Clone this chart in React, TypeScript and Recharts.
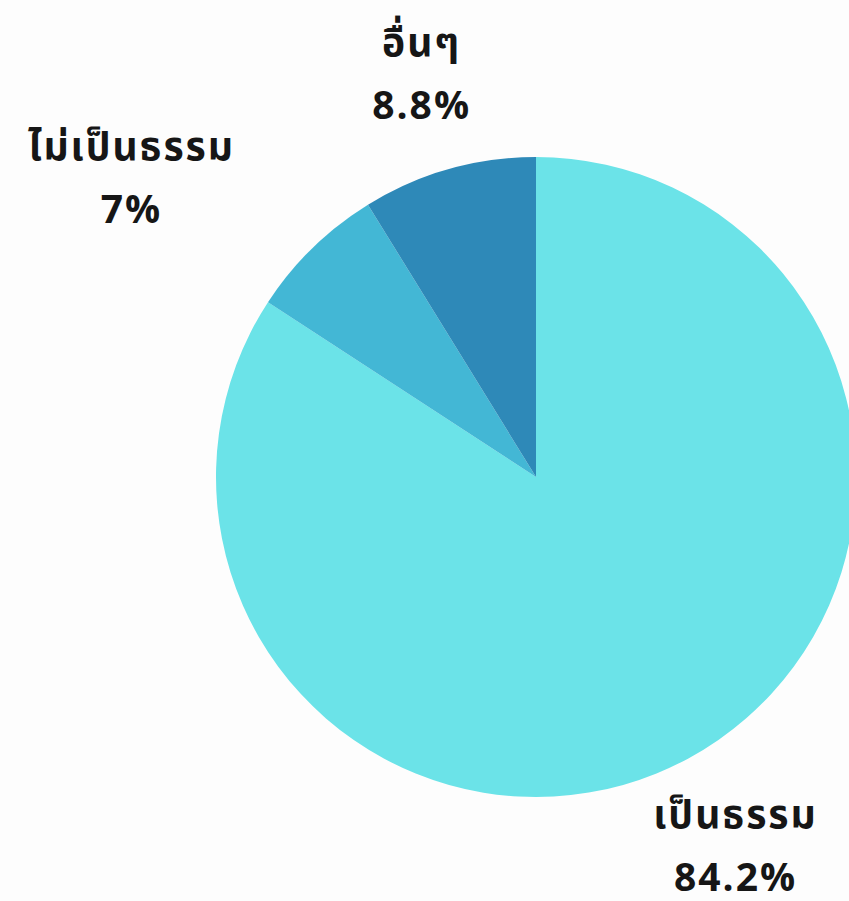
import React from "react";
import { PieChart, Pie, Cell } from "recharts";

const names = ["เป็นธรรม", "ไม่เป็นธรรม", "อื่นๆ"];
const values = [84.2, 7, 8.8];
const colors = ["#6BE3E8", "#43B7D5", "#2E89B8"];

const data = names.map((name, i) => ({ name, value: values[i] }));

const RAD = Math.PI / 180;
const FONT = "'Noto Sans Thai', 'Noto Sans', sans-serif";

function renderLabel(props: any) {
  const { cx, cy, midAngle, outerRadius, index } = props;
  const r = outerRadius + 99;
  const dx = Math.cos(-midAngle * RAD);
  const dy = Math.sin(-midAngle * RAD);
  let x = cx + r * dx;
  const y = cy + r * dy + 3;
  // left-side labels sit right-aligned against their anchor point
  if (dx < -0.5) x -= 112;
  return (
    <g>
      <text
        x={x}
        y={y - 32}
        textAnchor="middle"
        dominantBaseline="central"
        fontSize={39}
        fontWeight={700}
        fill="#161616"
        fontFamily={FONT}
        letterSpacing={2}
      >
        {names[index]}
      </text>
      <text
        x={x}
        y={y + 31}
        textAnchor="middle"
        dominantBaseline="central"
        fontSize={39}
        fontWeight={700}
        fill="#161616"
        fontFamily={FONT}
        letterSpacing={2}
      >
        {values[index]}%
      </text>
    </g>
  );
}

export default function App() {
  return (
    <div style={{ position: "fixed", left: 0, top: 0, width: 849, height: 901, background: "#fdfdfd" }}>
      <PieChart width={849} height={901} margin={{ top: 0, right: 0, bottom: 0, left: 0 }}>
        <Pie
          data={data}
          dataKey="value"
          nameKey="name"
          cx={536}
          cy={477}
          outerRadius={320}
          startAngle={90}
          endAngle={-270}
          stroke="none"
          label={renderLabel}
          labelLine={false}
          isAnimationActive={false}
        >
          {data.map((d, i) => (
            <Cell key={d.name} fill={colors[i]} />
          ))}
        </Pie>
      </PieChart>
    </div>
  );
}
